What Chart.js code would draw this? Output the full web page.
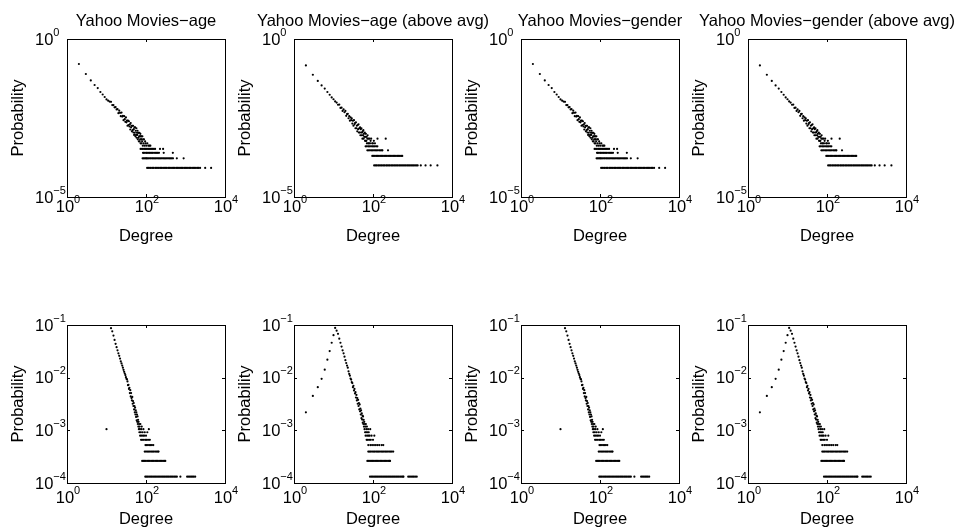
<!DOCTYPE html>
<html>
<head>
<meta charset="utf-8">
<script src="https://cdn.jsdelivr.net/npm/chart.js@4.4.1/dist/chart.umd.min.js"></script>
<style>
  body { margin: 0; background: #fff; }
  #wrap { position: relative; width: 956px; height: 529px; overflow: hidden; background: #fff; }
  #wrap canvas { position: absolute; }
</style>
</head>
<body>
<div id="wrap"></div>
<script>
// ---- data: [degree, probability] for the bulk of each distribution,
// plus the flat runs of degrees that occur only 1, 2, 3 or 4 times
const topAllCurve = [[2,.162],[3,.078],[4,.049],[5,.035],[6,.028],[7,.021],[8,.0175],[9,.0146],[10,.0122],[11,.0112],[12,.0105],[13,.0103],[14,.0081],[15,.0081],[16,.0069],[17,.0070],[18,.0059],[19,.0060],[20,.0045],[21,.0054],[22,.0046],[23,.0036],[24,.0047],[25,.0035],[26,.0037],[27,.0027],[28,.0036],[29,.0029],[30,.0024],[31,.0033],[32,.0023],[33,.0026],[34,.0018],[35,.0026],[36,.0019],[37,.0025],[38,.0017],[39,.0020],[40,.00137],[41,.0022],[42,.0016],[43,.0018],[44,.0012],[45,.0018],[46,.0013],[47,.0018],[48,.0011],[49,.0014],[50,.00092],[51,.0016],[52,.00108],[53,.0016],[54,.00083],[55,.00125],[56,.00092],[57,.0015],[58,.00075],[59,.00108],[60,.00092],[61,.00125],[62,.00067],[63,.00108],[64,.00075],[65,.00108],[66,.00058],[67,.00083],[68,.00108],[69,.00058],[70,.00083],[71,.00067],[72,.001],[73,.0005],[74,.00083],[75,.00067],[76,.00083],[77,.0005],[78,.00067],[80,.00058],[81,.00083],[83,.00042],[85,.00067],[87,.0005],[89,.00067],[92,.00042],[95,.00058],[98,.0005],[102,.00042],[108,.0005],[115,.00042],[122,.00042],[129,.00042]];
const topAllLevels = [8.3e-5, 1.67e-4, 2.5e-4, 3.33e-4];
const topAllRuns = [
  [107,115,126,134,147,156,171,182,199,213,232,248,270,290,315,337,367,394,428,460,499,536,583,625,680,730,792,851,925,993,1078,1158,1257,1350,1466,1577,1710,1838,1995,2145,2340,3150,4450],
  [82,87,93,99,103,109,117,126,134,144,153,165,177,190,204,219,236,253,272,292,314,338,362,390,418,449,482,603,897],
  [84,88,94,101,106,113,121,128,139,148,160,172,185,198,213,281,478],
  [73,79,84,91,97,104,112,119,127,136,146,158,170,226,271]
];

const topAboveCurve = [[2,.146],[3,.074],[4,.047],[5,.034],[6,.027],[7,.021],[8,.0172],[9,.0142],[10,.0124],[11,.0106],[12,.0097],[13,.0083],[14,.0084],[15,.0066],[16,.0067],[17,.0053],[18,.0059],[19,.0048],[20,.0053],[21,.0037],[22,.0042],[23,.0043],[24,.0031],[25,.0036],[26,.0026],[27,.0033],[28,.0027],[29,.0031],[30,.0021],[31,.0026],[32,.0018],[33,.0027],[34,.0020],[35,.0022],[36,.0015],[37,.0023],[38,.0015],[39,.0018],[40,.0012],[41,.0019],[42,.0014],[43,.0020],[44,.0011],[45,.0015],[46,.0011],[47,.0016],[48,.0009],[49,.0014],[50,.0011],[51,.0015],[52,.0009],[53,.0011],[54,.0007],[55,.0012],[56,.0009],[57,.0013],[58,.0007],[59,.001],[60,.0008],[62,.0011],[63,.0006],[64,.0008],[65,.0006],[66,.001],[68,.0006],[69,.0008],[70,.0005],[72,.0007],[73,.0009],[75,.0005],[77,.0007],[79,.0005],[82,.0007],[84,.0005],[87,.0006],[90,.0007],[95,.0005],[100,.0005],[105,.0006],[112,.0005],[130,.0007],[210,.0007]];
const topAboveLevels = [1e-4, 2e-4, 3e-4, 4e-4];
const topAboveRuns = [
  [107,116,124,135,145,158,169,184,197,215,230,250,268,292,313,340,365,396,426,462,497,539,580,628,677,733,789,854,921,996,1074,1160,1255,1350,1620,2140,2880,4270],
  [96,104,112,121,130,141,152,164,177,191,206,223,241,260,281,303,327,353,381,412,445,480,518,550],
  [72,78,84,91,98,106,114,123,133,144,155,167,173,240],
  [65,70,76,82,89,96,103,111,120,129]
];

const bottomAllCurve = [[10,.00105],[12,.1],[13,.087],[14,.076],[15,.063],[16,.052],[17,.044],[18,.038],[19,.033],[20,.029],[21,.026],[22,.023],[23,.0204],[24,.0186],[25,.017],[26,.0155],[27,.0141],[28,.0129],[29,.012],[30,.0112],[31,.0102],[32,.0095],[33,.0093],[34,.0085],[35,.0072],[36,.0073],[37,.0061],[38,.0064],[39,.0051],[40,.0058],[41,.0044],[42,.0051],[43,.0041],[44,.0037],[45,.0043],[46,.0032],[47,.0036],[48,.0029],[49,.0033],[50,.0025],[51,.0029],[52,.0022],[53,.0027],[54,.0020],[55,.0024],[56,.0018],[57,.0022],[58,.00155],[59,.0020],[60,.00145],[61,.00184],[62,.00132],[63,.00158],[64,.00118],[65,.00145],[66,.00105],[67,.00132],[68,.00092],[69,.00118],[70,.00105],[71,.00079],[72,.00132],[74,.00092],[75,.00066],[76,.00105],[77,.00079],[78,.00118],[80,.00066],[82,.00092],[84,.00079],[86,.00105],[88,.00066],[90,.00079],[93,.00092],[96,.00066],[100,.00079],[104,.00066],[108,.00092],[113,.00066],[118,.00105],[125,.00066]];
const bottomAllLevels = [1.32e-4, 2.63e-4, 3.95e-4, 5.26e-4];
const bottomAllRuns = [
  [96,103,111,120,130,140,151,163,176,190,205,222,240,259,280,302,326,352,380,411,444,479,518,559,604,742,1100,1190,1290,1390,1500,1620,1760],
  [80,86,92,99,107,116,125,135,146,157,170,184,198,214,231,250,270,290,308],
  [93,100,108,117,126,136,147,158,171,185,199,208],
  [97,104,112,121,131,141,153]
];

const bottomAboveCurve = [[2,.0022],[3,.0045],[4,.0066],[5,.0095],[6,.0142],[7,.022],[8,.032],[9,.046],[10,.064],[11,.088],[12,.078],[13,.068],[14,.055],[15,.046],[16,.039],[17,.033],[18,.029],[19,.025],[20,.0215],[21,.019],[22,.017],[23,.0155],[24,.0132],[25,.0118],[26,.0109],[27,.0096],[28,.0092],[29,.0082],[30,.0079],[31,.0066],[32,.0070],[33,.0057],[34,.0061],[35,.0050],[36,.0053],[37,.0042],[38,.0047],[39,.0037],[40,.0041],[41,.0032],[42,.0038],[43,.0029],[44,.0033],[45,.0025],[46,.0031],[47,.0023],[48,.0026],[49,.0020],[50,.0024],[51,.0017],[52,.0021],[53,.0016],[54,.0019],[55,.0014],[56,.00184],[57,.00132],[58,.00158],[59,.00118],[60,.00145],[61,.00105],[62,.00132],[63,.00092],[64,.00118],[65,.00079],[66,.00132],[67,.00092],[68,.00105],[69,.00066],[70,.00118],[71,.00079],[72,.00092],[74,.00066],[75,.00105],[77,.00079],[78,.00092],[80,.00066],[82,.00079],[85,.00105],[88,.00066],[92,.00079],[100,.00066],[108,.00079]];
const bottomAboveLevels = [1.32e-4, 2.63e-4, 3.95e-4, 5.26e-4];
const bottomAboveRuns = [
  [84,91,98,106,114,123,133,143,155,167,180,194,210,226,244,264,285,307,332,358,386,417,450,486,525,567,590,780,850,920,1000,1080,1170,1280],
  [72,78,84,90,97,105,113,122,132,142,154,166,179,193,208,225,243,262,270],
  [76,82,88,95,103,111,120,129,139,150,162,175,189,204,220,238,257,278,300,325],
  [76,86,95,106,118,131,145,166,182]
];

const titles = ["Yahoo Movies\u2212age", "Yahoo Movies\u2212age (above avg)", "Yahoo Movies\u2212gender", "Yahoo Movies\u2212gender (above avg)"];
const xTickValues = [1, 100, 10000];
const yTicksTop = [1e-5, 1];
const yTicksBottom = [1e-4, 1e-3, 1e-2, 1e-1];

// ---- layout
const FONT = "'Liberation Sans', Arial, Helvetica, sans-serif";
const BIG = "16.5px " + FONT, SMALL = "11px " + FONT;
const BOX = 158, AXIS_W = 66, CANVAS_W = 274;
const colLefts = [67, 294, 521, 748];
const rows = [
  { top: 0, height: 250, xAxisH: 53, yMin: 1e-5, yMax: 1, yTicks: yTicksTop, xLabelDy: 15, degreePad: 3.5 },
  { top: 286, height: 243, xAxisH: 46, yMin: 1e-4, yMax: 0.1, yTicks: yTicksBottom, xLabelDy: 20, degreePad: 0 }
];

function toPoints(curve, levels, runs) {
  const pts = curve.map(([x, y]) => ({ x, y }));
  runs.forEach((degs, i) => degs.forEach(d => pts.push({ x: d, y: levels[i] })));
  return pts;
}

// "10" with a raised exponent, the way log-axis labels are written
function powerLabel(ctx, value, x, y, align) {
  const e = Math.round(Math.log10(value));
  const sup = e < 0 ? "\u2212" + (-e) : String(e);
  ctx.font = BIG;
  const wb = ctx.measureText("10").width;
  ctx.font = SMALL;
  const ws = ctx.measureText(sup).width;
  const left = align === "left" ? x : x - (wb + ws) / 2;
  ctx.font = BIG;
  ctx.fillText("10", left, y);
  ctx.font = SMALL;
  ctx.fillText(sup, left + wb, y - 9);
}

const boxAxes = {
  id: "boxAxes",
  afterDraw(chart, args, opts) {
    const { ctx, chartArea: a, scales: { x, y } } = chart;
    ctx.save();
    ctx.strokeStyle = "#000";
    ctx.lineWidth = 1;
    ctx.strokeRect(a.left + 0.5, a.top + 0.5, a.right - a.left, a.bottom - a.top);
    ctx.beginPath();
    x.ticks.forEach(t => {
      const px = Math.round(x.getPixelForValue(t.value)) + 0.5;
      ctx.moveTo(px, a.bottom); ctx.lineTo(px, a.bottom - 3);
      ctx.moveTo(px, a.top); ctx.lineTo(px, a.top + 3);
    });
    y.ticks.forEach(t => {
      const py = Math.round(y.getPixelForValue(t.value)) + 0.5;
      ctx.moveTo(a.left, py); ctx.lineTo(a.left + 3, py);
      ctx.moveTo(a.right, py); ctx.lineTo(a.right - 3, py);
    });
    ctx.stroke();

    ctx.fillStyle = "#000";
    ctx.textBaseline = "alphabetic";
    ctx.textAlign = "left";
    x.ticks.forEach(t => powerLabel(ctx, t.value, x.getPixelForValue(t.value) + 1, a.bottom + opts.xLabelDy, "center"));
    y.ticks.forEach(t => powerLabel(ctx, t.value, a.left - 32, y.getPixelForValue(t.value) + 5.5, "left"));

    if (opts.title) {
      ctx.font = BIG;
      ctx.textAlign = "center";
      ctx.fillText(opts.title, (a.left + a.right) / 2, a.top - 13);
    }
    ctx.restore();
  }
};

const wrap = document.getElementById("wrap");

const datasets = [
  [toPoints(topAllCurve, topAllLevels, topAllRuns), toPoints(topAboveCurve, topAboveLevels, topAboveRuns)],
  [toPoints(bottomAllCurve, bottomAllLevels, bottomAllRuns), toPoints(bottomAboveCurve, bottomAboveLevels, bottomAboveRuns)]
];

rows.forEach((row, r) => {
  colLefts.forEach((boxLeft, c) => {
    const canvas = document.createElement("canvas");
    canvas.width = CANVAS_W;
    canvas.height = row.height;
    canvas.style.left = (boxLeft - AXIS_W) + "px";
    canvas.style.top = row.top + "px";
    wrap.appendChild(canvas);

    new Chart(canvas.getContext("2d"), {
      type: "scatter",
      data: {
        datasets: [{
          data: datasets[r][c % 2],
          pointRadius: 1.1,
          pointBorderWidth: 0,
          pointBackgroundColor: "#000",
          backgroundColor: "#000",
        }],
      },
      plugins: [boxAxes],
      options: {
        responsive: false,
        animation: false,
        devicePixelRatio: 1,
        layout: { padding: { top: 39, right: CANVAS_W - AXIS_W - BOX, left: 0, bottom: 0 } },
        plugins: {
          legend: { display: false },
          tooltip: { enabled: false },
          boxAxes: { title: r === 0 ? titles[c] : null, xLabelDy: row.xLabelDy },
        },
        scales: {
          x: {
            type: "logarithmic",
            min: 1,
            max: 10000,
            afterBuildTicks: (s) => { s.ticks = xTickValues.map(v => ({ value: v })); },
            afterFit: (s) => { s.height = row.xAxisH; },
            grid: { display: false },
            border: { display: false },
            ticks: { display: false },
            title: { display: true, text: "Degree", color: "#000", font: { family: FONT, size: 16.5 }, padding: { top: 0, bottom: row.degreePad } },
          },
          y: {
            type: "logarithmic",
            min: row.yMin,
            max: row.yMax,
            afterBuildTicks: (s) => { s.ticks = row.yTicks.map(v => ({ value: v })); },
            afterFit: (s) => { s.width = AXIS_W; },
            grid: { display: false },
            border: { display: false },
            ticks: { display: false },
            title: { display: true, text: "Probability", color: "#000", font: { family: FONT, size: 16.5 }, padding: { top: 8, bottom: 0 } },
          },
        },
      },
    });
  });
});
</script>
</body>
</html>
